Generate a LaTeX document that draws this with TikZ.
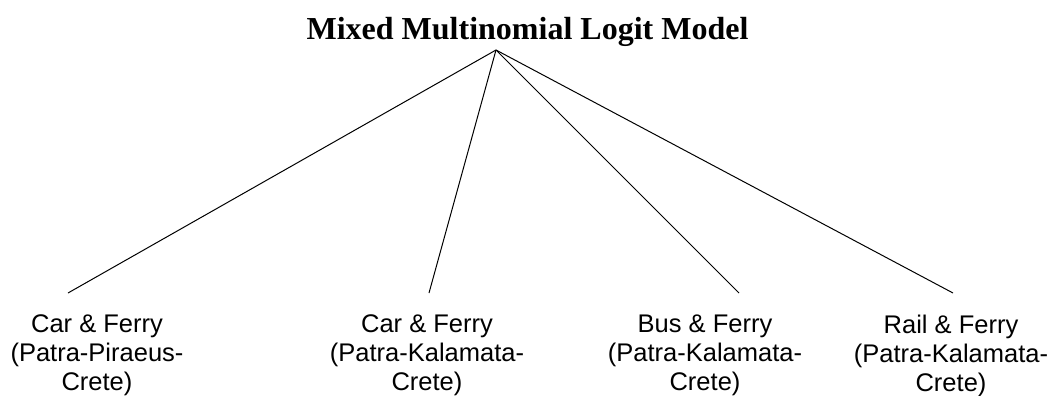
\documentclass[tikz,border=0pt]{standalone}
\usepackage{fontspec}
\setmainfont{Liberation Serif}
\newfontfamily\arialf{Liberation Sans}
\begin{document}
\begin{tikzpicture}[x=1pt,y=-1pt,
  titlestyle/.style={font=\fontsize{32}{36}\selectfont\bfseries, inner sep=0pt, anchor=base},
  leafstyle/.style={font=\arialf\fontsize{25.5}{29}\selectfont, align=center, inner sep=0pt, anchor=north},
  edgestyle/.style={draw=black, line width=1pt}]
\useasboundingbox (0,0) rectangle (1055,396);
\node[titlestyle] (title) at (527.5,40) {Mixed Multinomial Logit Model};
\coordinate (apex) at (496,50);
\node[leafstyle] (l1) at (97,314.5) {Car \& Ferry\\(Patra-Piraeus-\\Crete)};
\node[leafstyle] (l2) at (427,314.5) {Car \& Ferry\\(Patra-Kalamata-\\Crete)};
\node[leafstyle] (l3) at (705,314.5) {Bus \& Ferry\\(Patra-Kalamata-\\Crete)};
\node[leafstyle] (l4) at (951,314.5) {Rail \& Ferry\\(Patra-Kalamata-\\Crete)};
\coordinate (e1) at (68,293);
\coordinate (e2) at (429,293);
\coordinate (e3) at (739,293);
\coordinate (e4) at (953,293);
\draw[edgestyle] (apex) -- (e1);
\draw[edgestyle] (apex) -- (e2);
\draw[edgestyle] (apex) -- (e3);
\draw[edgestyle] (apex) -- (e4);
\end{tikzpicture}
\end{document}
